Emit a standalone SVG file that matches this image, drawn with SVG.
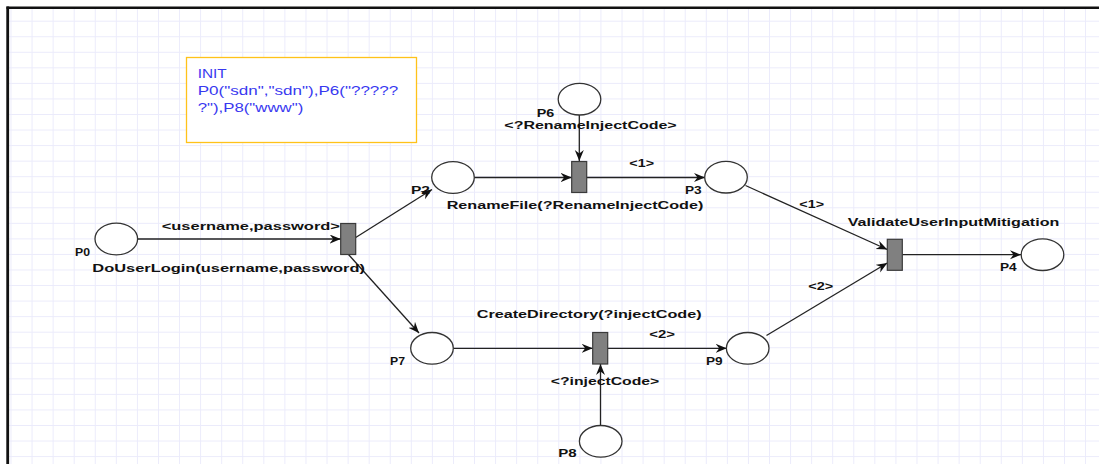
<svg xmlns="http://www.w3.org/2000/svg" width="1099" height="464" viewBox="0 0 1099 464">
<style>
.place{fill:#ffffff;stroke:#333333;stroke-width:1.3}
.trans{fill:#808080;stroke:#3a3a3a;stroke-width:1.2}
.arc{fill:none;stroke:#222222;stroke-width:1.3;marker-end:url(#arr)}
.lbl{font-family:"Liberation Sans",Arial,sans-serif;font-weight:bold;font-size:11px;fill:#111111}
.init{font-family:"Liberation Sans",Arial,sans-serif;font-size:13px;fill:#3838f0}
</style>
<defs>
<pattern id="grid" patternUnits="userSpaceOnUse" x="10.5" y="5.15" width="21.07" height="15.55">
<rect x="0" y="0" width="1" height="15.55" fill="#ebebfb"/>
<rect x="0" y="0" width="21.07" height="1" fill="#ebebfb"/>
</pattern>
<marker id="arr" markerUnits="userSpaceOnUse" markerWidth="12" markerHeight="10" refX="11" refY="4.5" orient="auto">
<path d="M0,0 L11,4.5 L0,9 L3.5,4.5 Z" fill="#111111"/>
</marker>
</defs>
<rect x="0" y="0" width="1099" height="464" fill="#ffffff"/>
<rect x="8" y="8" width="1091" height="456" fill="url(#grid)"/>
<g id="border">
<line x1="6.5" y1="7.7" x2="1099" y2="7.7" stroke="#111111" stroke-width="2.5"/>
<line x1="7.7" y1="6.5" x2="7.7" y2="464" stroke="#111111" stroke-width="2.8"/>
</g>
<g id="init-note">
<rect x="186.5" y="57.5" width="230" height="85" fill="#ffffff" stroke="#ffc21a" stroke-width="1.3"/>
<text class="init" x="197.7" y="78" textLength="29" lengthAdjust="spacingAndGlyphs">INIT</text>
<text class="init" x="197.7" y="94.5" textLength="200.6" lengthAdjust="spacingAndGlyphs">P0("sdn","sdn"),P6("?????</text>
<text class="init" x="197.7" y="111.5" textLength="105.6" lengthAdjust="spacingAndGlyphs">?"),P8("www")</text>
</g>
<g id="connectors">
<line class="arc" x1="137.7" y1="239" x2="340.7" y2="239"/>
<line class="arc" x1="355.7" y1="237.5" x2="432" y2="189.5"/>
<line class="arc" x1="348.5" y1="254.5" x2="419" y2="333"/>
<line class="arc" x1="474.3" y1="177.5" x2="571.7" y2="177.5"/>
<line class="arc" x1="579.3" y1="115" x2="579.3" y2="161"/>
<line class="arc" x1="586.7" y1="177.5" x2="705" y2="177.5"/>
<line class="arc" x1="745.5" y1="185.5" x2="887.3" y2="249.5"/>
<line class="arc" x1="766.5" y1="335.5" x2="887.3" y2="263"/>
<line class="arc" x1="902.3" y1="254.7" x2="1021" y2="254.7"/>
<line class="arc" x1="453.3" y1="348.3" x2="592.7" y2="348.3"/>
<line class="arc" x1="608" y1="348.3" x2="726.7" y2="348.3"/>
<line class="arc" x1="600.5" y1="426" x2="600.5" y2="364"/>
</g>
<g id="P0"><ellipse class="place" cx="116.3" cy="239" rx="21.3" ry="15.8"/><text class="lbl" x="75" y="256" textLength="15" lengthAdjust="spacingAndGlyphs">P0</text></g>
<g id="T-DoUserLogin"><rect class="trans" x="340.7" y="223.5" width="15" height="31"/><text class="lbl" x="161.7" y="229.5" textLength="178.3" lengthAdjust="spacingAndGlyphs">&lt;username,password&gt;</text><text class="lbl" x="92.3" y="271.5" textLength="272.7" lengthAdjust="spacingAndGlyphs">DoUserLogin(username,password)</text></g>
<g id="P2"><ellipse class="place" cx="453" cy="177.5" rx="21.3" ry="15.8"/><text class="lbl" x="411" y="194" textLength="19" lengthAdjust="spacingAndGlyphs">P2</text></g>
<g id="P6"><ellipse class="place" cx="579.5" cy="99.2" rx="21.3" ry="15.8"/><text class="lbl" x="536.7" y="116.5" textLength="17.6" lengthAdjust="spacingAndGlyphs">P6</text><text class="lbl" x="504.3" y="129" textLength="172.4" lengthAdjust="spacingAndGlyphs">&lt;?RenameInjectCode&gt;</text></g>
<g id="T-RenameFile"><rect class="trans" x="571.7" y="161.5" width="15" height="31"/><text class="lbl" x="629.3" y="167" textLength="24.7" lengthAdjust="spacingAndGlyphs">&lt;1&gt;</text><text class="lbl" x="446.7" y="209" textLength="256.6" lengthAdjust="spacingAndGlyphs">RenameFile(?RenameInjectCode)</text></g>
<g id="P3"><ellipse class="place" cx="726" cy="177.2" rx="21.3" ry="15.8"/><text class="lbl" x="685" y="194" textLength="16.7" lengthAdjust="spacingAndGlyphs">P3</text></g>
<g id="T-ValidateUserInputMitigation"><rect class="trans" x="887.3" y="239.3" width="15" height="31"/><text class="lbl" x="799.3" y="207.5" textLength="24.7" lengthAdjust="spacingAndGlyphs">&lt;1&gt;</text><text class="lbl" x="847.7" y="226" textLength="211.6" lengthAdjust="spacingAndGlyphs">ValidateUserInputMitigation</text><text class="lbl" x="808.3" y="290" textLength="25" lengthAdjust="spacingAndGlyphs">&lt;2&gt;</text></g>
<g id="P4"><ellipse class="place" cx="1042.5" cy="254.7" rx="21.3" ry="15.8"/><text class="lbl" x="1000" y="270.5" textLength="16.7" lengthAdjust="spacingAndGlyphs">P4</text></g>
<g id="P7"><ellipse class="place" cx="432" cy="348.3" rx="21.3" ry="15.8"/><text class="lbl" x="390" y="365" textLength="15" lengthAdjust="spacingAndGlyphs">P7</text></g>
<g id="T-CreateDirectory"><rect class="trans" x="592.7" y="332.5" width="15" height="31.5"/><text class="lbl" x="476.7" y="318" textLength="225" lengthAdjust="spacingAndGlyphs">CreateDirectory(?injectCode)</text><text class="lbl" x="649.3" y="338" textLength="25.7" lengthAdjust="spacingAndGlyphs">&lt;2&gt;</text><text class="lbl" x="550.7" y="385" textLength="108.6" lengthAdjust="spacingAndGlyphs">&lt;?injectCode&gt;</text></g>
<g id="P9"><ellipse class="place" cx="747.7" cy="348.3" rx="21.3" ry="15.8"/><text class="lbl" x="706" y="365" textLength="16.7" lengthAdjust="spacingAndGlyphs">P9</text></g>
<g id="P8"><ellipse class="place" cx="600.7" cy="441.3" rx="21.3" ry="15.8"/><text class="lbl" x="558.3" y="457" textLength="18.4" lengthAdjust="spacingAndGlyphs">P8</text></g>
</svg>
